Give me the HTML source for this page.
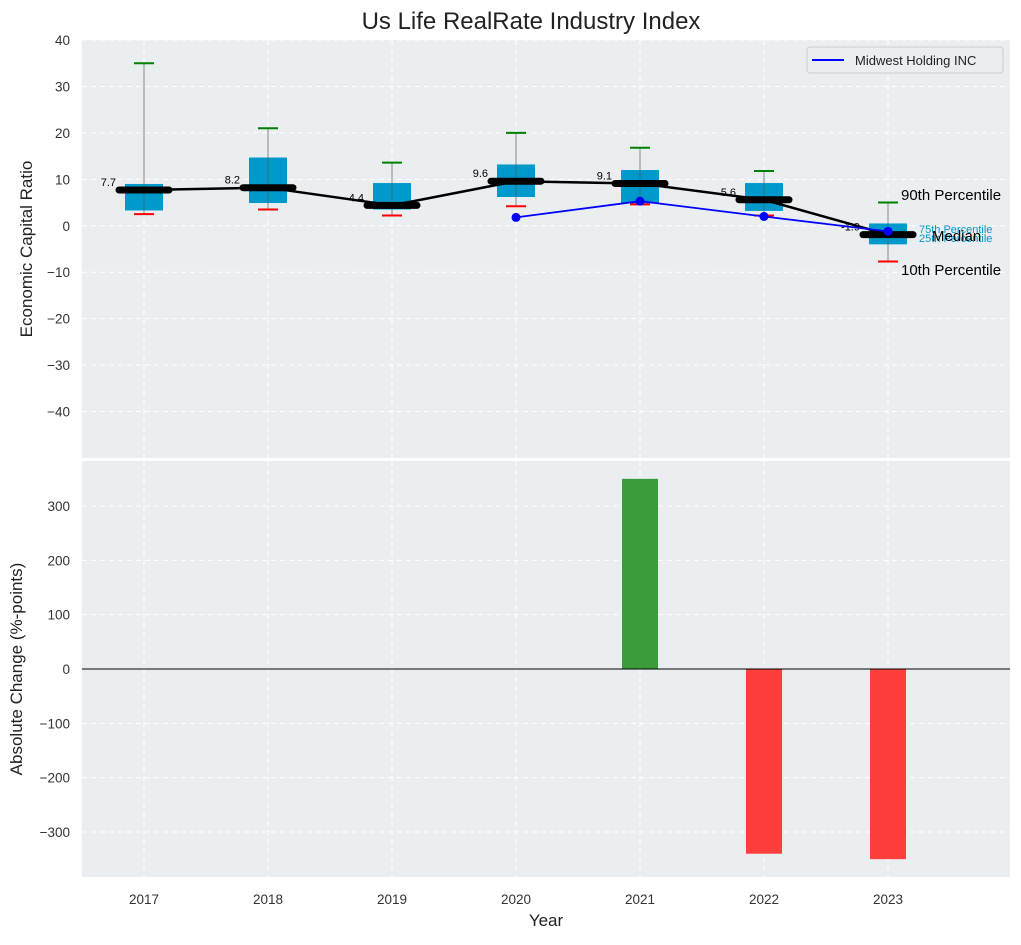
<!DOCTYPE html>
<html><head><meta charset="utf-8"><style>
body{margin:0;background:#fff;font-family:"Liberation Sans",sans-serif}
</style></head><body>
<svg id="chart" width="1021" height="940" xmlns="http://www.w3.org/2000/svg" font-family="Liberation Sans, sans-serif">
<text x="531" y="29" text-anchor="middle" font-size="24" fill="#222">Us Life RealRate Industry Index</text>
<rect x="82" y="40" width="928" height="418" fill="#eaeef0"/>
<rect x="82" y="461" width="928" height="416" fill="#eaeef0"/>
<g id="grid"></g><g id="marks"></g>
<text transform="translate(32,249) rotate(-90)" text-anchor="middle" font-size="17" fill="#222">Economic Capital Ratio</text>
<text transform="translate(22,669) rotate(-90)" text-anchor="middle" font-size="17" fill="#222">Absolute Change (%-points)</text>
<text x="546" y="926" text-anchor="middle" font-size="17" fill="#222">Year</text>
<g>
<rect x="807" y="47" width="196" height="26" rx="3" fill="#eaeef0" stroke="#ccc"/>
<line x1="812" y1="60" x2="844" y2="60" stroke="blue" stroke-width="2"/>
<text x="855" y="65" font-size="13" fill="#222">Midwest Holding INC</text>
</g>
<text x="901" y="200" font-size="15" fill="#000">90th Percentile</text>
<text x="919" y="233" font-size="11" fill="#0099cc">75th Percentile</text>
<text x="919" y="242" font-size="11" fill="#0099cc">25th Percentile</text>
<text x="932" y="241" font-size="15" fill="#000">Median</text>
<text x="901" y="275" font-size="15" fill="#000">10th Percentile</text>
</svg>
<script>
const years=[2017,2018,2019,2020,2021,2022,2023];
const p10=[2.5,3.5,2.2,4.2,4.6,2.2,-7.7];
const p25=[3.3,4.9,3.5,6.2,4.8,3.2,-4];
const median=[7.7,8.2,4.4,9.6,9.1,5.6,-1.9];
const p75=[9,14.7,9.2,13.2,12,9.2,0.5];
const p90=[35,21,13.6,20,16.8,11.8,5];
const midwestYears=[2020,2021,2022,2023];
const midwest=[1.8,5.3,2.0,-1.2];
const changes=[0,0,0,0,350,-340,-350];
const topTicks=[40,30,20,10,0,-10,-20,-30,-40];
const botTicks=[300,200,100,0,-100,-200,-300];

const NS='http://www.w3.org/2000/svg';
const X=v=>144+(v-2017)*124;
const Y1=v=>40+(40-v)/90*418;
const Y2=v=>669-v*0.5433;
const grid=document.getElementById('grid'),marks=document.getElementById('marks'),svg=document.getElementById('chart');
function mk(p,tag,a){const e=document.createElementNS(NS,tag);for(const k in a)e.setAttribute(k,a[k]);p.appendChild(e);return e;}
topTicks.forEach(t=>{
 const l=mk(grid,'line',{x1:82,x2:1010,y1:Y1(t),y2:Y1(t),stroke:'#fff','stroke-dasharray':'5,4'});
 
 
 const tx=mk(svg,'text',{x:70,y:Y1(t)+5,'text-anchor':'end','font-size':13.5,fill:'#333'});tx.textContent=t.toString().replace('-','−');
 
 
});
botTicks.forEach(t=>{
 if(t!==0){const l=mk(grid,'line',{x1:82,x2:1010,y1:Y2(t),y2:Y2(t),stroke:'#fff','stroke-dasharray':'5,4'});
 
 }
 const tx=mk(svg,'text',{x:70,y:Y2(t)+5,'text-anchor':'end','font-size':13.5,fill:'#333'});tx.textContent=t.toString().replace('-','−');
 
 
});
years.forEach(y=>{
 mk(grid,'line',{x1:X(y),x2:X(y),y1:40,y2:458,stroke:'#fff','stroke-dasharray':'5,4'});
 mk(grid,'line',{x1:X(y),x2:X(y),y1:461,y2:877,stroke:'#fff','stroke-dasharray':'5,4'});
 const tx=mk(svg,'text',{x:X(y),y:904,'text-anchor':'middle','font-size':13.5,fill:'#333'});tx.textContent=y;
 
 
});
years.forEach((y,i)=>{
 const x=X(y);
 const w=mk(marks,'line',{x1:x,x2:x,y1:Y1(p90[i]),y2:Y1(p10[i]),stroke:'#888','stroke-width':1});
 
 
 const b=mk(marks,'rect',{x:x-19,y:Y1(p75[i]),width:38,height:Y1(p25[i])-Y1(p75[i]),fill:'#0099cc'});
 
 
 mk(marks,'line',{x1:x,x2:x,y1:Y1(p75[i]),y2:Y1(p25[i]),stroke:'#555','stroke-width':1,opacity:0.6});
 const g=mk(marks,'line',{x1:x-10,x2:x+10,y1:Y1(p90[i]),y2:Y1(p90[i]),stroke:'green','stroke-width':2});
 
 
 const r=mk(marks,'line',{x1:x-10,x2:x+10,y1:Y1(p10[i]),y2:Y1(p10[i]),stroke:'red','stroke-width':2});
 
 
});
const mp=mk(marks,'polyline',{points:years.map((y,i)=>X(y)+','+Y1(median[i])).join(' '),fill:'none',stroke:'#000','stroke-width':2.5});


years.forEach((y,i)=>{
 const m=mk(marks,'line',{x1:X(y)-25,x2:X(y)+25,y1:Y1(median[i]),y2:Y1(median[i]),stroke:'#000','stroke-width':7,'stroke-linecap':'round'});
 
 
 const t=mk(marks,'text',{x:X(y)-28,y:Y1(median[i])-4,'text-anchor':'end','font-size':11,fill:'#000'});t.textContent=median[i];
 
 
});
const ml=mk(marks,'polyline',{points:midwestYears.map((y,i)=>X(y)+','+Y1(midwest[i])).join(' '),fill:'none',stroke:'blue','stroke-width':1.8});


midwestYears.forEach((y,i)=>{
 const c=mk(marks,'circle',{cx:X(y),cy:Y1(midwest[i]),r:4.5,fill:'blue'});
 
 
});
years.forEach((y,i)=>{
 if(!changes[i])return;
 const v=changes[i];
 const b=mk(marks,'rect',{x:X(y)-18,y:Math.min(Y2(v),Y2(0)),width:36,height:Math.abs(Y2(v)-Y2(0)),fill:v>0?'#3a9c3a':'#ff3d3d'});
 
 
});
const z=mk(marks,'line',{x1:82,x2:1010,y1:Y2(0),y2:Y2(0),stroke:'#000','stroke-width':1});


</script>
</body></html>
